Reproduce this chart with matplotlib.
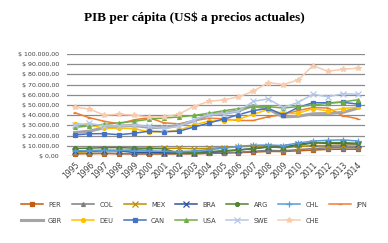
import matplotlib
matplotlib.use('Agg')
import matplotlib.pyplot as plt
from matplotlib.ticker import FuncFormatter

# Years and GDP per capita (current US$)
years = [str(y) for y in range(1995, 2015)]

PER = [2200, 2300, 2400, 2200, 2000, 2000, 2000, 2100, 2200, 2500, 2800, 3300, 3800, 4500, 4400, 5100, 5800, 6500, 6700, 6600]
COL = [2500, 2600, 2800, 2500, 2200, 2500, 2400, 2400, 2300, 2800, 3400, 3700, 4700, 5500, 5100, 6300, 7300, 8000, 8200, 8100]
MEX = [3700, 4200, 5300, 5500, 6100, 7200, 7500, 7600, 7100, 7500, 8300, 9100, 9700, 10100, 8000, 9300, 10200, 10200, 10700, 10900]
BRA = [4700, 5200, 5300, 5100, 3500, 3700, 3200, 2800, 3100, 3600, 4800, 5900, 7300, 8800, 8600, 11300, 13200, 12400, 12300, 12100]
ARG = [7400, 7700, 8200, 8300, 7700, 7700, 7200, 2600, 3400, 4300, 5100, 5900, 7200, 8900, 8200, 10400, 12800, 13100, 13100, 12300]
CHL = [5100, 5300, 5700, 5500, 5000, 5100, 4600, 4400, 4800, 6200, 7600, 9500, 10500, 10800, 10200, 12800, 14600, 15400, 15800, 14700]
JPN = [42500, 37500, 34000, 31500, 35500, 37500, 32500, 31500, 34500, 37000, 36500, 34800, 34800, 38500, 40500, 44500, 47500, 47000, 39500, 36500]
GBR = [23000, 24400, 27700, 29300, 29900, 28100, 27700, 30100, 34400, 40300, 41700, 44300, 49500, 46000, 38300, 38900, 41400, 41600, 42700, 46800]
DEU = [31700, 30500, 27000, 27300, 26800, 23700, 23600, 25200, 30400, 34100, 34700, 36000, 41000, 45500, 41700, 41800, 46500, 44100, 46500, 47800]
CAN = [20600, 21800, 21900, 20900, 22300, 24300, 23800, 24300, 28300, 32200, 36300, 40400, 44500, 46600, 40300, 47600, 52200, 52200, 52600, 50900]
USA = [28000, 29500, 31000, 32500, 34000, 36000, 37300, 38200, 39700, 41900, 44300, 46400, 48000, 48400, 47000, 48400, 50000, 51600, 53100, 55000]
SWE = [30000, 32000, 29500, 29500, 30000, 29000, 27000, 29000, 35500, 40500, 41500, 44000, 53500, 56000, 47500, 52500, 60500, 58000, 61000, 60500]
CHE = [48000, 46000, 40000, 41000, 40000, 38000, 38500, 41000, 48500, 53500, 55000, 58000, 63500, 72000, 70000, 74500, 88500, 83000, 85000, 86000]

series = [
    ('PER', PER, '#C55A11', 's', 1.1),
    ('COL', COL, '#7F7F7F', '^', 1.1),
    ('MEX', MEX, '#BF9000', 'x', 1.1),
    ('BRA', BRA, '#2F5597', 'x', 1.1),
    ('ARG', ARG, '#548235', 'o', 1.1),
    ('CHL', CHL, '#5B9BD5', '+', 1.1),
    ('JPN', JPN, '#ED7D31', '_', 1.1),
    ('GBR', GBR, '#A5A5A5', '_', 2.2),
    ('DEU', DEU, '#FFC000', 'o', 1.1),
    ('CAN', CAN, '#4472C4', 's', 1.1),
    ('USA', USA, '#70AD47', '^', 1.1),
    ('SWE', SWE, '#B4C7E7', 'x', 1.1),
    ('CHE', CHE, '#F8CBAD', '*', 1.1),
]

fig = plt.figure(figsize=(3.88, 2.43), dpi=100)
ax = fig.add_axes([0.173, 0.358, 0.768, 0.42])

x = list(range(len(years)))
lines = {}
for name, vals, color, marker, lw in series:
    ms = 2.8 if marker not in ('x', '+', '*') else 3.8
    ln, = ax.plot(x, vals, color=color, marker=marker, markersize=ms, linewidth=lw,
                  markeredgewidth=0.9, label=name)
    lines[name] = ln

ax.set_xlim(-0.5, len(years) - 0.5)
ax.set_ylim(0, 100000)
ax.set_yticks(range(0, 100001, 10000))


def money(v, pos):
    s = f'{v:,.2f}'.replace(',', 'X').replace('.', ',').replace('X', '.')
    return '$ ' + s


ax.yaxis.set_major_formatter(FuncFormatter(money))
ax.set_xticks(x)
ax.set_xticklabels(years, rotation=45, ha='right', rotation_mode='anchor')
ax.tick_params(axis='y', labelsize=4.5, length=0, pad=6, colors='#404040')
ax.tick_params(axis='x', labelsize=5.5, length=0, pad=3, colors='#404040')
ax.grid(axis='y', color='#8C8C8C', linewidth=0.9)
ax.set_axisbelow(True)
for sp in ax.spines.values():
    sp.set_visible(False)

fig.text(0.5, 0.925, 'PIB per cápita (US$ a precios actuales)', ha='center', va='center',
         fontsize=9.5, fontweight='bold', family='Liberation Serif')

# legend filled column by column, so interleave to get the row order
order = ['PER', 'GBR', 'COL', 'DEU', 'MEX', 'CAN', 'BRA', 'USA', 'ARG', 'SWE', 'CHL', 'CHE', 'JPN']
fig.legend([lines[n] for n in order], order, loc='upper center', bbox_to_anchor=(0.5, 0.195),
           ncol=7, frameon=False, fontsize=4.8, handlelength=3.3, columnspacing=1.5,
           handletextpad=0.8, labelspacing=1.5, labelcolor='#404040')

fig.savefig('out.png', dpi=100)
